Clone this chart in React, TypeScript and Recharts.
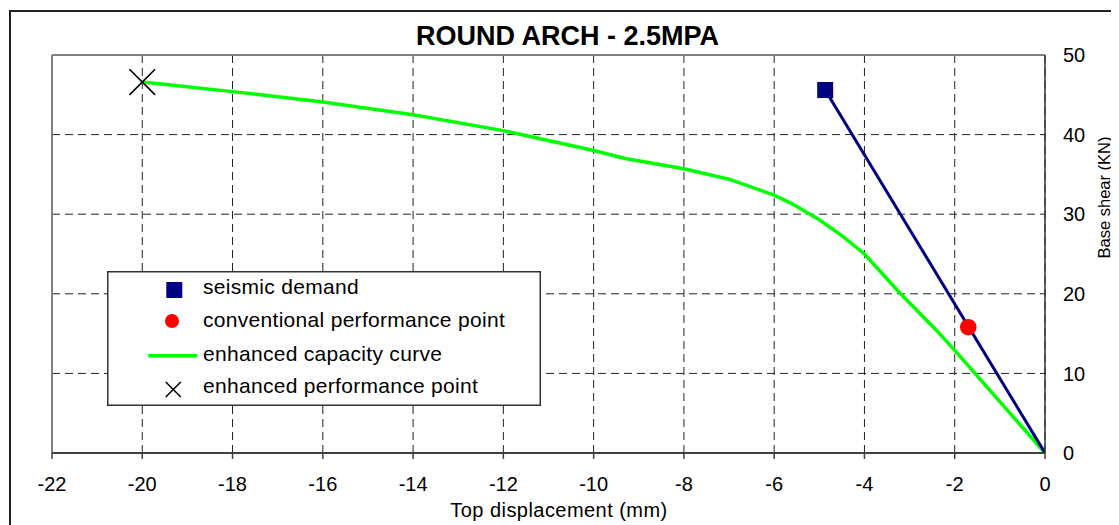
import React from 'react';
import {
  ComposedChart,
  Line,
  Scatter,
  XAxis,
  YAxis,
  CartesianGrid,
  ReferenceLine,
  Legend,
  Label,
} from 'recharts';

// ---- data ----
const capacityDisp = [-20, -18, -16, -14, -12, -10, -9.3, -8, -7, -6, -5.6, -5, -4.5, -4, -3.2, -2.4, -2, -1.55, 0];
const capacityShear = [46.6, 45.4, 44.1, 42.5, 40.5, 38.0, 37.0, 35.7, 34.4, 32.4, 31.3, 29.3, 27.3, 25.0, 20.0, 15.4, 12.9, 10.0, 0];

const demandDisp = [-4.87, 0];
const demandShear = [45.6, 0];

const seismicDemandPoint = { x: -4.87, y: 45.6 };
const conventionalPoint = { x: -1.7, y: 15.8 };
const enhancedPoint = { x: -20.0, y: 46.6 };

const xTicks = [-22, -20, -18, -16, -14, -12, -10, -8, -6, -4, -2, 0];
const yTicks = [0, 10, 20, 30, 40, 50];

const titleText = 'ROUND ARCH - 2.5MPA';
const xLabelText = 'Top displacement (mm)';
const yLabelText = 'Base shear (KN)';
const legendLabels = [
  'seismic demand',
  'conventional performance point',
  'enhanced capacity curve',
  'enhanced performance point',
];

const capacityData = capacityDisp.map((x, i) => ({ x, y: capacityShear[i] }));
const demandData = demandDisp.map((x, i) => ({ x, y: demandShear[i] }));

// ---- shapes ----
const SquareShape = (p: any) => (
  <rect x={p.cx - 8} y={p.cy - 8} width={16} height={16} fill="#000080" />
);
const CircleShape = (p: any) => <circle cx={p.cx} cy={p.cy} r={8.3} fill="#ff0000" />;
const CrossShape = (p: any) => (
  <g stroke="#000" strokeWidth={1.6}>
    <line x1={p.cx - 12.8} y1={p.cy - 12.8} x2={p.cx + 12.8} y2={p.cy + 12.8} />
    <line x1={p.cx - 12.8} y1={p.cy + 12.8} x2={p.cx + 12.8} y2={p.cy - 12.8} />
  </g>
);

const XLabelContent = (props: any) => {
  const vb = props.viewBox || { x: 0, y: 0, width: 0, height: 0 };
  return (
    <text
      x={vb.x + vb.width / 2 + 10.5}
      y={vb.y + vb.height + 23.7}
      textAnchor="middle"
      fontSize={20}
      letterSpacing={0.45}
      fill="#000"
    >
      {xLabelText}
    </text>
  );
};

const YLabelContent = () => {
  const x = 1101.5;
  const y = 189.5;
  return (
    <text
      x={x}
      y={y}
      transform={`rotate(-90 ${x} ${y})`}
      textAnchor="middle"
      fontSize={16.5}
      fill="#000"
    >
      {yLabelText}
    </text>
  );
};

const LegendBox = () => {
  const textBase = [23, 55.7, 89.7, 121.7];
  return (
    <svg width={434} height={135} style={{ display: 'block' }}>
      <rect x={0.75} y={0.75} width={432.5} height={133.5} fill="#fff" stroke="#333" strokeWidth={1.5} />
      <rect x={59.3} y={11} width={16} height={16} fill="#000080" />
      <circle cx={65} cy={50} r={7} fill="#ff0000" />
      <line x1={41.3} x2={90.3} y1={84.7} y2={84.7} stroke="#00ff00" strokeWidth={3.5} />
      <g stroke="#000" strokeWidth={1.5}>
        <line x1={66.3 - 7.5} y1={118.5 - 7.5} x2={66.3 + 7.5} y2={118.5 + 7.5} />
        <line x1={66.3 - 7.5} y1={118.5 + 7.5} x2={66.3 + 7.5} y2={118.5 - 7.5} />
      </g>
      {legendLabels.map((t, i) => (
        <text key={t} x={96} y={textBase[i]} fontSize={21} letterSpacing={0.3} fill="#000">
          {t}
        </text>
      ))}
    </svg>
  );
};

export default function App() {
  return (
    <div
      style={{
        position: 'relative',
        width: 1111,
        height: 517,
        overflow: 'hidden',
        fontFamily: '"Liberation Sans", Arial, sans-serif',
        background: '#fff',
      }}
    >
      <style>{'html{overflow:hidden}'}</style>
      <div
        style={{
          position: 'absolute',
          left: 1,
          top: 2,
          width: 1300,
          height: 700,
          borderLeft: '2px solid #222',
          borderTop: '2px solid #222',
          boxSizing: 'border-box',
        }}
      />
      <div
        style={{
          position: 'absolute',
          left: 0,
          top: 15,
          width: 1119,
          textAlign: 'center',
          fontSize: 27,
          lineHeight: '27px',
          fontWeight: 'bold',
          color: '#000',
        }}
      >
        {titleText}
      </div>
      <ComposedChart
        width={1111}
        height={517}
        margin={{ top: 47, right: 14, bottom: 32, left: 44 }}
        style={{ position: 'absolute', left: 0, top: 0 }}
      >
        <CartesianGrid stroke="#222" strokeDasharray="8 5" />
        <XAxis
          dataKey="x"
          type="number"
          domain={[-22, 0]}
          ticks={xTicks}
          interval={0}
          allowDataOverflow
          height={40}
          tickSize={6}
          tickMargin={18}
          tick={{ fill: '#000', fontSize: 20 }}
          axisLine={{ stroke: '#404040', strokeWidth: 2 }}
          tickLine={{ stroke: '#404040', strokeWidth: 1.5 }}
        >
          <Label content={XLabelContent} />
        </XAxis>
        <YAxis
          orientation="right"
          type="number"
          domain={[0, 50]}
          ticks={yTicks}
          interval={0}
          allowDataOverflow
          width={60}
          tickLine={false}
          tickSize={0}
          tickMargin={18}
          tick={{ fill: '#000', fontSize: 20 }}
          axisLine={{ stroke: '#333', strokeWidth: 1.5 }}
        >
          <Label content={YLabelContent} />
        </YAxis>
        <ReferenceLine y={50} stroke="#808080" strokeWidth={2} />
        <ReferenceLine x={-22} stroke="#808080" strokeWidth={2} />
        <Line
          data={capacityData}
          dataKey="y"
          type="linear"
          stroke="#00ff00"
          strokeWidth={3.5}
          dot={false}
          activeDot={false}
          isAnimationActive={false}
          name={legendLabels[2]}
        />
        <Line
          data={demandData}
          dataKey="y"
          type="linear"
          stroke="#000080"
          strokeWidth={3}
          dot={false}
          activeDot={false}
          isAnimationActive={false}
          legendType="none"
        />
        <Scatter
          data={[seismicDemandPoint]}
          dataKey="y"
          shape={SquareShape}
          isAnimationActive={false}
          name={legendLabels[0]}
        />
        <Scatter
          data={[conventionalPoint]}
          dataKey="y"
          shape={CircleShape}
          isAnimationActive={false}
          name={legendLabels[1]}
        />
        <Scatter
          data={[enhancedPoint]}
          dataKey="y"
          shape={CrossShape}
          isAnimationActive={false}
          name={legendLabels[3]}
        />
        <Legend
          layout="horizontal"
          verticalAlign="middle"
          align="center"
          content={LegendBox}
          wrapperStyle={{ left: 98.7, top: 263, bottom: 'auto', width: 434, height: 135 }}
        />
      </ComposedChart>
    </div>
  );
}
